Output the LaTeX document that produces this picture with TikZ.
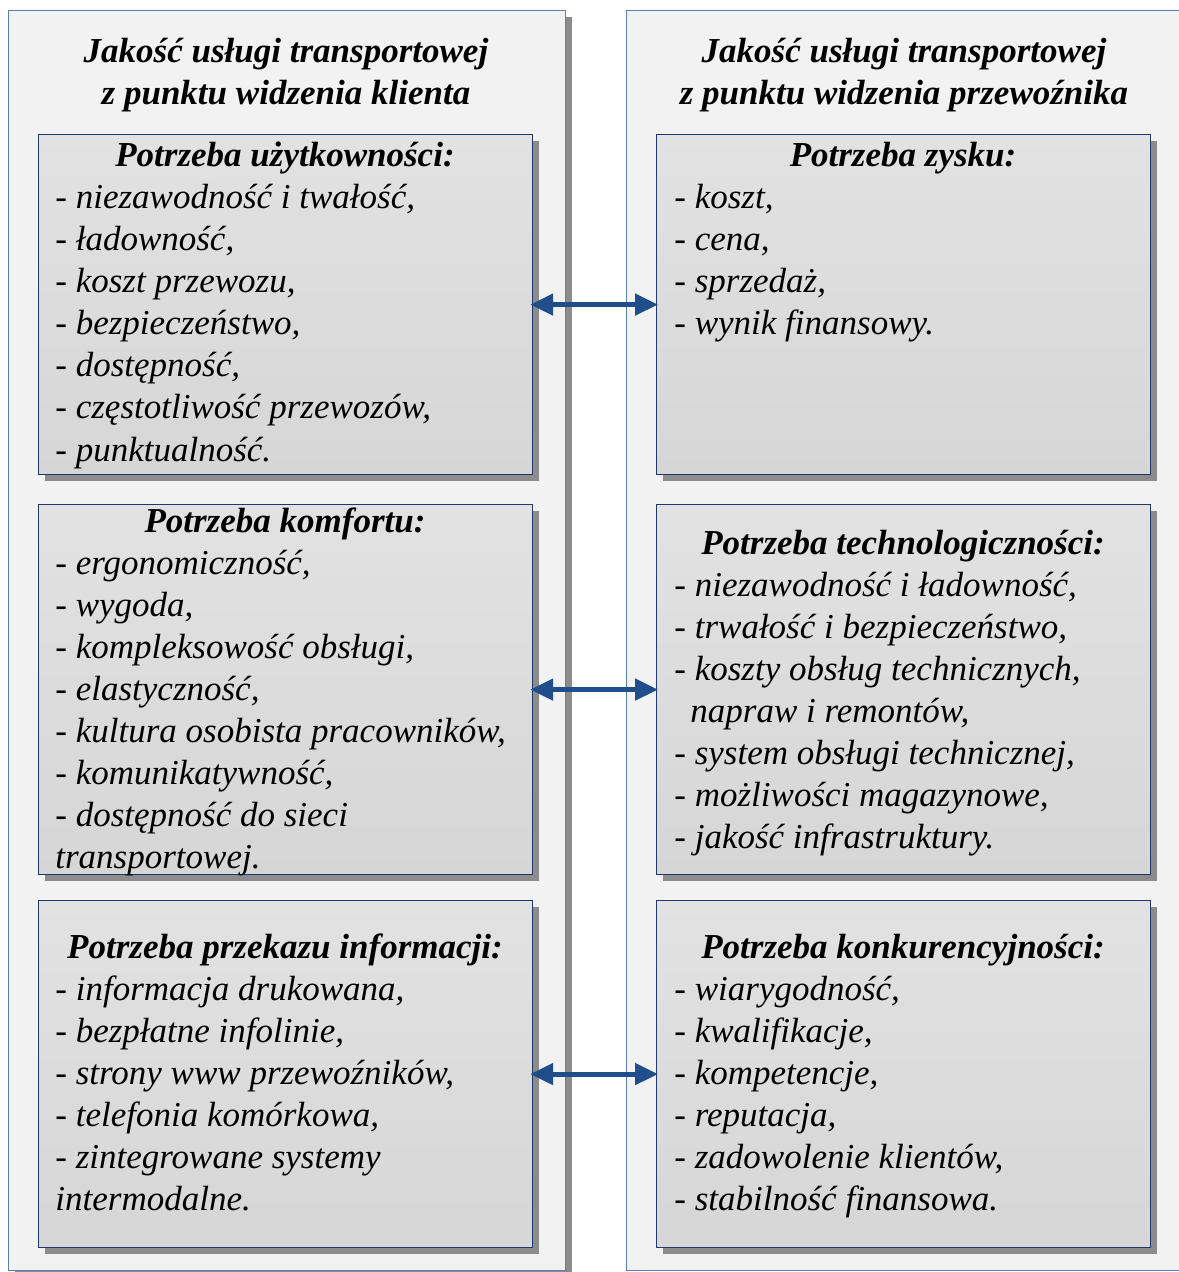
\documentclass[tikz,border=0pt]{standalone}
\usepackage{fontspec}
\setmainfont{Liberation Serif}
\usepackage{tikz}
\usetikzlibrary{arrows.meta,shadows,positioning}

\definecolor{panelfill}{HTML}{F2F2F2}
\definecolor{panelline}{HTML}{5B7DB0}
\definecolor{boxline}{HTML}{1F3A68}
\definecolor{boxtop}{HTML}{E2E2E2}
\definecolor{boxbot}{HTML}{D6D6D6}
\definecolor{linkblue}{HTML}{1F4E8A}

\begin{document}
\begin{tikzpicture}
[   x=0.5pt, y=-0.5pt,
    panel/.style={draw=panelline, fill=panelfill, line width=0.6pt, anchor=north west, inner sep=0,
        minimum width=278.5pt, minimum height=630pt},
    box/.style={draw=boxline, line width=0.6pt, top color=boxtop, bottom color=boxbot, anchor=north west, inner sep=0,
        minimum width=247pt,
        drop shadow={shadow xshift=3.3pt, shadow yshift=-3.3pt, fill=black!45, opacity=1}},
    title/.style={font=\bfseries\itshape\fontsize{17.5}{21}\selectfont, anchor=base, inner sep=0},
    head/.style={font=\bfseries\itshape\fontsize{17.5}{21}\selectfont, anchor=base, inner sep=0},
    item/.style={font=\itshape\fontsize{17.5}{21}\selectfont, anchor=base west, inner sep=0},
    link/.style={{Triangle[length=11.5pt,width=10.5pt]}-{Triangle[length=11.5pt,width=10.5pt]}, draw=linkblue, line width=2.4pt,
        shorten <=-1.5pt, shorten >=-1pt},
]
    \useasboundingbox (0,0) rectangle (1178,1272);

    % the two columns
    \node[panel, drop shadow={shadow xshift=3.3pt, shadow yshift=-3.3pt, fill=black!45, opacity=1}] (klient) at (8,10) {};
    \node[panel] (przew) at (626,10) {};
    \node[title] (klient-t1) at (286,63) {Jakość usługi transportowej};
    \node[title] (klient-t2) at (286,105) {z punktu widzenia klienta};
    \node[title] (przew-t1) at (904,63) {Jakość usługi transportowej};
    \node[title] (przew-t2) at (904,105) {z punktu widzenia przewoźnika};

    % left boxes
    \node[box, minimum height=170pt] (uzyt) at (38,134) {};
    \node[box, minimum height=185pt] (komf) at (38,504) {};
    \node[box, minimum height=173.5pt] (info) at (38,900) {};
    % right boxes
    \node[box, minimum height=170pt] (zysk) at (656,134) {};
    \node[box, minimum height=185pt] (tech) at (656,504) {};
    \node[box, minimum height=173.5pt] (konk) at (656,900) {};

    \node[head] (uzyt-h) at (285,167) {Potrzeba użytkowności:};
    \foreach \t [count=\i] in {{- niezawodność i twałość,},{- ładowność,},{- koszt przewozu,},{- bezpieczeństwo,},{- dostępność,},{- częstotliwość przewozów,},{- punktualność.}}
    {
        \node[item] (uzyt-\i) at (55,{167+42*\i}) {\t};
    }

    \node[head] (komf-h) at (285,532) {Potrzeba komfortu:};
    \foreach \t [count=\i] in {{- ergonomiczność,},{- wygoda,},{- kompleksowość obsługi,},{- elastyczność,},{- kultura osobista pracowników,},{- komunikatywność,},{- dostępność do sieci},{transportowej.}}
    {
        \node[item] (komf-\i) at (55,{532+42*\i}) {\t};
    }

    \node[head] (info-h) at (285,958) {Potrzeba przekazu informacji:};
    \foreach \t [count=\i] in {{- informacja drukowana,},{- bezpłatne infolinie,},{- strony www przewoźników,},{- telefonia komórkowa,},{- zintegrowane systemy},{intermodalne.}}
    {
        \node[item] (info-\i) at (55,{958+42*\i}) {\t};
    }

    \node[head] (zysk-h) at (903,167) {Potrzeba zysku:};
    \foreach \t [count=\i] in {{- koszt,},{- cena,},{- sprzedaż,},{- wynik finansowy.}}
    {
        \node[item] (zysk-\i) at (674,{167+42*\i}) {\t};
    }

    \node[head] (tech-h) at (903,554) {Potrzeba technologiczności:};
    \foreach \t [count=\i] in {{- niezawodność i ładowność,},{- trwałość i bezpieczeństwo,},{- koszty obsług technicznych,},{\hspace*{8pt}napraw i remontów,},{- system obsługi technicznej,},{- możliwości magazynowe,},{- jakość infrastruktury.}}
    {
        \node[item] (tech-\i) at (674,{554+42*\i}) {\t};
    }

    \node[head] (konk-h) at (903,958) {Potrzeba konkurencyjności:};
    \foreach \t [count=\i] in {{- wiarygodność,},{- kwalifikacje,},{- kompetencje,},{- reputacja,},{- zadowolenie klientów,},{- stabilność finansowa.}}
    {
        \node[item] (konk-\i) at (674,{958+42*\i}) {\t};
    }

    % links between the needs
    \draw[link] (uzyt.east) -- (zysk.west);
    \draw[link] (komf.east) -- (tech.west);
    \draw[link] (info.east) -- (konk.west);

\end{tikzpicture}
\end{document}
